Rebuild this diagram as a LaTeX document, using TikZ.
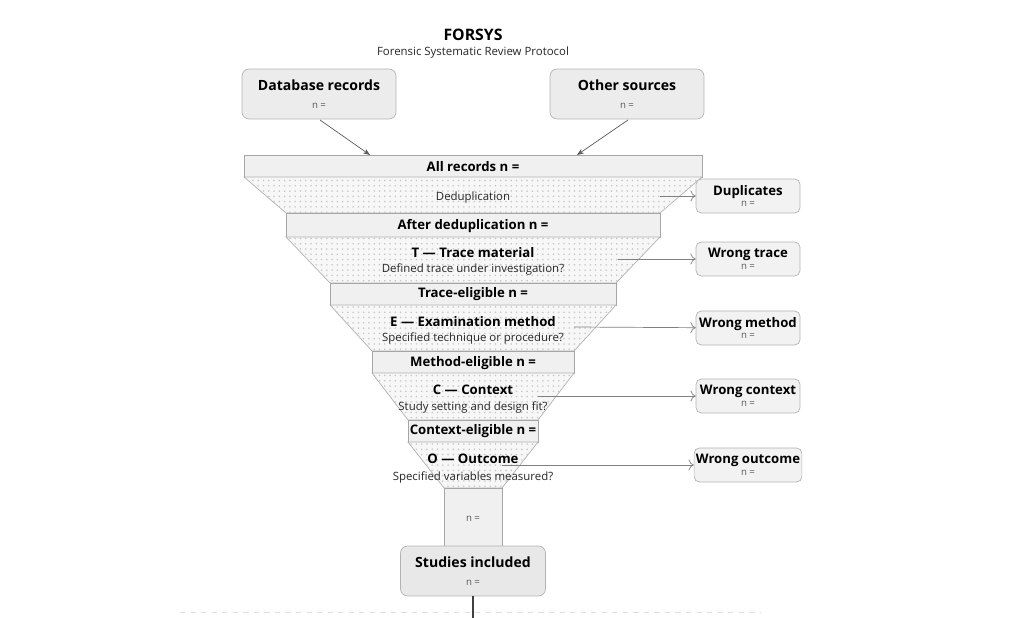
\documentclass[tikz,border=0pt]{standalone}
\usepackage{fontspec}
\setmainfont{Open Sans}
\usetikzlibrary{arrows.meta,patterns,positioning}
\newcommand{\nval}{{\fontsize{5.5}{6}\selectfont\mdseries\color{gray!70!black} n =}}
\tikzset{
  band/.style={draw=gray!70, fill=gray!12},
  funnel/.style={draw=gray!60, fill=gray!6, postaction={pattern=dots, pattern color=gray!45}},
  srcbox/.style={draw=gray!60, fill=gray!15, rounded corners=4pt, minimum width=3.08cm, minimum height=1cm, align=center, font=\fontsize{8}{11}\selectfont},
  sidebox/.style={draw=gray!60, fill=gray!10, rounded corners=3pt, minimum width=2.08cm, minimum height=0.68cm, align=center, inner sep=1pt, font=\fontsize{7.5}{8.5}\selectfont\bfseries},
  nsmall/.style={font=\fontsize{5.5}{6}\selectfont\mdseries, text=gray!70!black},
  lbl/.style={font=\fontsize{7.5}{9}\selectfont\bfseries},
  sub/.style={font=\fontsize{6.5}{8}\selectfont, text=gray!30!black},
  flow/.style={draw=gray!70!black, -{Stealth[length=4pt]}},
  excl/.style={draw=gray, -{To[length=3pt]}}
}
\begin{document}
\begin{tikzpicture}[x=0.02cm, y=-0.02cm]
\useasboundingbox (0,0) rectangle (1024,618);
% title
\node[font=\fontsize{9}{10}\selectfont\bfseries] (title) at (473,35) {FORSYS};
\node[font=\fontsize{6.5}{8}\selectfont, text=gray!30!black] (subtitle) at (473,53) {Forensic Systematic Review Protocol};
% sources
\node[srcbox] (db) at (319,94) {\textbf{Database records}\\[-1pt]\nval};
\node[srcbox] (other) at (627,94) {\textbf{Other sources}\\[-1pt]\nval};
% funnel
\draw[band] (244,155) rectangle (702,177);
\draw[funnel] (244,177) -- (702,177) -- (660,213) -- (286,213) -- cycle;
\draw[band] (286,213) rectangle (660,237);
\draw[funnel] (286,237) -- (660,237) -- (616,283) -- (330,283) -- cycle;
\draw[band] (330,283) rectangle (616,305);
\draw[funnel] (330,305) -- (616,305) -- (574,351) -- (372,351) -- cycle;
\draw[band] (372,351) rectangle (574,373);
\draw[funnel] (372,373) -- (574,373) -- (538,420) -- (408,420) -- cycle;
\draw[band] (408,420) rectangle (538,442);
\draw[funnel] (408,442) -- (538,442) -- (502,488) -- (444,488) -- cycle;
\draw[band] (444,488) rectangle (502,546);
% funnel texts
\node[lbl] (all) at (473,167) {All records n =};
\node[sub] (dedup) at (473,198) {Deduplication};
\node[lbl] (after) at (473,226) {After deduplication n =};
\node[lbl] (trace) at (473,253) {T — Trace material};
\node[sub] (traceq) at (473,270) {Defined trace under investigation?};
\node[lbl] (traceok) at (473,294) {Trace-eligible n =};
\node[lbl] (exam) at (473,322) {E — Examination method};
\node[sub] (examq) at (473,339) {Specified technique or procedure?};
\node[lbl] (methodok) at (473,363) {Method-eligible n =};
\node[lbl] (ctx) at (473,390) {C — Context};
\node[sub] (ctxq) at (473,407) {Study setting and design fit?};
\node[lbl] (ctxok) at (473,431) {Context-eligible n =};
\node[lbl] (outc) at (473,459) {O — Outcome};
\node[sub] (outcq) at (473,477) {Specified variables measured?};
\node[nsmall] (stem) at (473,519) {n =};
% inputs
\coordinate (dbS) at (320,120);
\coordinate (otherS) at (628,120);
\coordinate (allL) at (370,155);
\coordinate (allR) at (577,155);
\draw[flow] (dbS) -- (allL);
\draw[flow] (otherS) -- (allR);
% exclusions
\node[sidebox] (dup) at (748,196) {Duplicates\\[-2pt]\nval};
\node[sidebox] (wtrace) at (748,259) {Wrong trace\\[-2pt]\nval};
\node[sidebox] (wmethod) at (748,328) {Wrong method\\[-2pt]\nval};
\node[sidebox] (wctx) at (748,396) {Wrong context\\[-2pt]\nval};
\node[sidebox] (wout) at (748,465) {Wrong outcome\\[-2pt]\nval};
\coordinate (e1) at (660,196);
\coordinate (e2) at (618,259);
\coordinate (e3) at (574,327);
\coordinate (e4) at (538,396);
\coordinate (e5) at (502,465);
\draw[excl] (e1) -- (dup);
\draw[excl] (e2) -- (wtrace);
\draw[excl] (e3) -- (wmethod);
\draw[excl] (e4) -- (wctx);
\draw[excl] (e5) -- (wout);
% result
\node[srcbox, minimum width=2.9cm, fill=gray!18] (incl) at (473,571) {\textbf{Studies included}\\[-1pt]\nval};
\coordinate (down) at (473,618);
\draw[gray!50!black, thick] (incl.south) -- (down);
\draw[gray!25, dashed] (180,612) -- (760,612);
\end{tikzpicture}
\end{document}
